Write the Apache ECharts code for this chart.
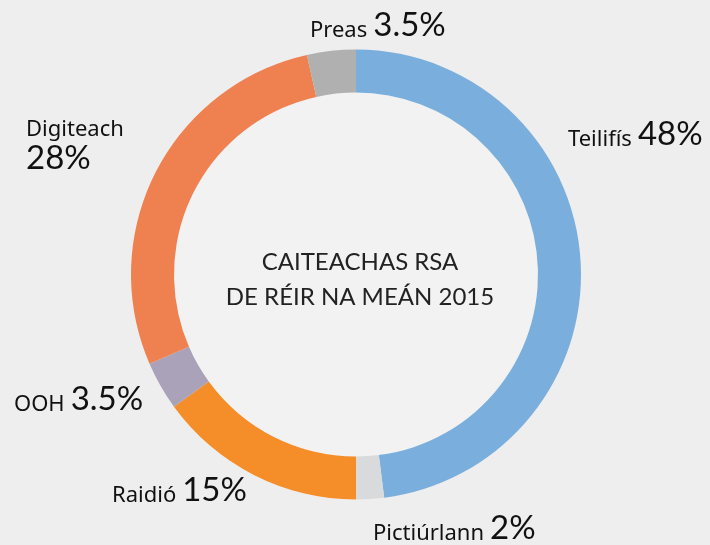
<!DOCTYPE html>
<html>
<head>
<meta charset="utf-8">
<script src="https://cdn.jsdelivr.net/npm/echarts@6/dist/echarts.min.js"></script>
<style>
  html, body { margin: 0; padding: 0; background: #eeeeee; }
  #pie { width: 710px; height: 545px; }
</style>
</head>
<body>
<div id="pie"></div>
<script>
const categories = ['Teilifís', 'Pictiúrlann', 'Raidió', 'OOH', 'Digiteach', 'Preas']
const shares = [48, 2, 15, 3.5, 28, 3.5]
const colors = ['#7aafdd', '#d9dadb', '#f58d28', '#a9a2b8', '#ef8150', '#b0b0b0']
const centreTitle = 'CAITEACHAS RSA\nDE RÉIR NA MEÁN 2015'

// where each label sits (left edge, vertical middle)
const labelPos = [
  [568, 134],
  [373, 528],
  [112, 490],
  [14, 399],
  [26, 143],
  [310, 25]
]

const font = 'Lato, "Noto Sans", sans-serif'
const nameFont = '"Noto Sans", Lato, sans-serif'

const pieOption = {
  backgroundColor: '#eeeeee',
  animation: false,
  graphic: [
    {
      type: 'circle',
      shape: {cx: 356, cy: 274.5, r: 183},
      style: {fill: '#f2f2f2'},
      silent: true
    },
    {
      type: 'text',
      x: 360,
      y: 280,
      style: {
        text: centreTitle,
        fill: '#222222',
        font: '24px ' + font,
        lineHeight: 35,
        textAlign: 'center',
        textVerticalAlign: 'middle'
      }
    }
  ],
  series: [
    {
      type: 'pie',
      center: [356, 274.5],
      radius: [182, 225],
      startAngle: 90,
      clockwise: true,
      itemStyle: {borderWidth: 0},
      emphasis: {disabled: true},
      labelLine: {show: false},
      label: {
        show: true,
        position: 'outside',
        overflow: 'none',
        formatter: function (p) {
          const sep = p.name === 'Digiteach' ? '\n' : ''
          return '{n|' + p.name + '}' + sep + '{v|' + p.value + '%}'
        },
        rich: {
          n: {fontFamily: nameFont, fontSize: 22, color: '#111111', padding: [0, 6, 0, 0], verticalAlign: 'bottom', lineHeight: 30},
          v: {fontFamily: font, fontSize: 33, color: '#111111', verticalAlign: 'bottom', lineHeight: 34}
        }
      },
      labelLayout: function (params) {
        const pos = labelPos[params.dataIndex]
        return {x: pos[0], y: pos[1], align: 'left', verticalAlign: 'middle'}
      },
      data: categories.map((name, i) => ({
        name: name,
        value: shares[i],
        itemStyle: {color: colors[i]}
      }))
    }
  ]
}

const pieChart = echarts.init(document.getElementById('pie'))
pieChart.setOption(pieOption)
</script>
</body>
</html>
